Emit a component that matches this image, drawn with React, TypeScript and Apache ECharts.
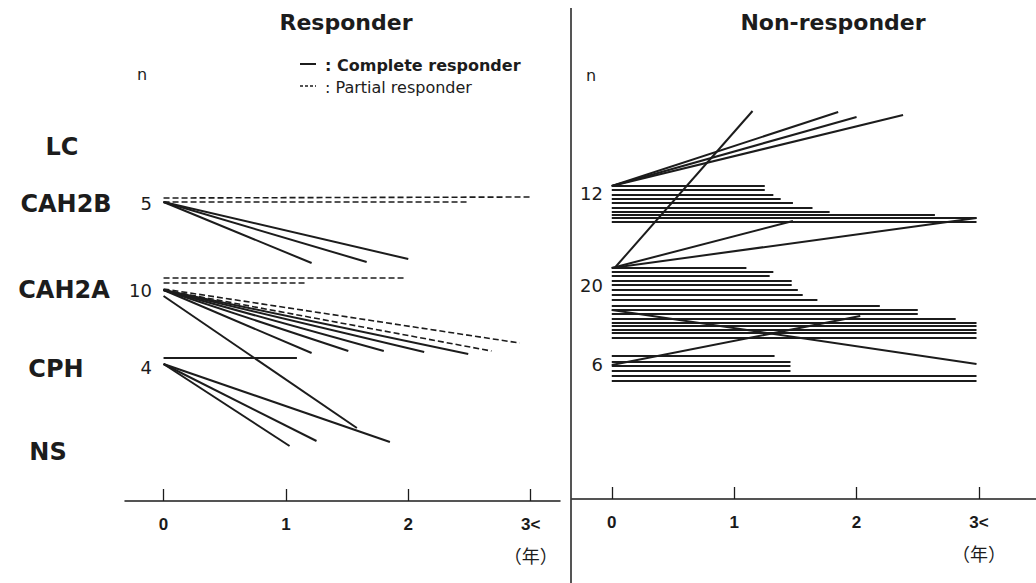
import React, { useEffect, useRef } from "react";
import * as echarts from "echarts";

// ---- data ----
const yearTicks = [0, 1, 2, 3];
const yearLabels = ["0", "1", "2", "3<"];
const stageNames = ["LC", "CAH2B", "CAH2A", "CPH", "NS"];
const stageLevels = [35.4, 29.7, 21.1, 13.2, 4.9];
const responderCounts = ["5", "10", "4"];
const responderCountLevels = [29.8, 21.1, 13.4];
const nonResponderCounts = ["12", "20", "6"];
const nonResponderCountLevels = [30.6, 21.4, 13.5];

// segments: [startYear, startLevel, endYear, endLevel]
const responderComplete = [
  // CAH2B
  [0, 29.9, 1.21, 23.8],
  [0, 29.9, 1.66, 23.9],
  [0, 29.9, 2.0, 24.2],
  // CAH2A
  [0, 21.1, 1.21, 14.8],
  [0, 21.1, 1.51, 15.0],
  [0, 21.1, 1.8, 15.0],
  [0, 21.1, 2.13, 14.9],
  [0, 21.1, 2.49, 14.7],
  [0, 20.5, 1.58, 7.3],
  // CPH
  [0, 14.3, 1.09, 14.3],
  [0, 13.7, 1.03, 5.5],
  [0, 13.7, 1.25, 6.0],
  [0, 13.7, 1.85, 5.9],
];
const responderPartial = [
  // CAH2B
  [0, 30.3, 3.0, 30.4],
  [0, 29.9, 2.48, 29.9],
  // CAH2A
  [0, 22.3, 1.98, 22.3],
  [0, 21.8, 1.16, 21.8],
  [0, 21.2, 2.91, 15.8],
  [0, 21.1, 2.68, 15.0],
];
const nonResponder = [
  // 12
  [0, 31.3, 1.85, 38.7],
  [0, 31.3, 2.0, 38.2],
  [0, 31.3, 2.38, 38.4],
  [0, 31.3, 1.25, 31.3],
  [0, 30.9, 1.25, 30.9],
  [0, 30.4, 1.32, 30.4],
  [0, 30.0, 1.38, 30.0],
  [0, 29.6, 1.48, 29.6],
  [0, 29.1, 1.64, 29.1],
  [0, 28.7, 1.78, 28.7],
  [0, 28.4, 2.64, 28.4],
  [0, 28.1, 2.98, 28.1],
  [0, 27.7, 2.98, 27.7],
  // 20
  [0.03, 23.2, 1.15, 38.8],
  [0, 23.1, 2.98, 28.1],
  [0, 23.1, 1.48, 27.8],
  [0, 18.9, 2.98, 13.5],
  [0, 23.1, 1.1, 23.1],
  [0, 22.7, 1.32, 22.7],
  [0, 22.3, 1.29, 22.3],
  [0, 21.8, 1.47, 21.8],
  [0, 21.4, 1.47, 21.4],
  [0, 20.9, 1.52, 20.9],
  [0, 20.4, 1.56, 20.4],
  [0, 19.9, 1.68, 19.9],
  [0, 19.3, 2.19, 19.3],
  [0, 18.9, 2.5, 18.9],
  [0, 18.5, 2.5, 18.5],
  [0, 18.0, 2.81, 18.0],
  [0, 17.6, 2.98, 17.6],
  [0, 17.3, 2.98, 17.3],
  [0, 16.9, 2.98, 16.9],
  [0, 16.6, 2.98, 16.6],
  [0, 16.1, 2.98, 16.1],
  // 6
  [0, 13.4, 2.03, 18.3],
  [0, 14.3, 1.33, 14.3],
  [0, 13.7, 1.46, 13.7],
  [0, 13.3, 1.46, 13.3],
  [0, 12.8, 1.46, 12.8],
  [0, 12.3, 2.98, 12.3],
  [0, 11.8, 2.98, 11.8],
];

// ---- layout / style ----
const INK = "#1c1c1c";
const SANS = "'DejaVu Sans', 'Liberation Sans', sans-serif";
const stageLabelX = [62, 66, 64, 56, 48];

const toSeg = (s: number[]) => ({ coords: [[s[0], s[1]], [s[2], s[3]]] });

function xAxisFor(grid: number, min: number, max: number) {
  return {
    gridIndex: grid,
    type: "value",
    min,
    max,
    axisLine: { onZero: false, lineStyle: { color: INK, width: 1.5 } },
    axisTick: { inside: true, length: 12, customValues: yearTicks, lineStyle: { color: INK, width: 1.3 } },
    axisLabel: {
      customValues: yearTicks,
      formatter: (v: number) => yearLabels[yearTicks.indexOf(v)] ?? "",
      margin: 15,
      fontSize: 17,
      fontWeight: "bold",
      color: "#1a1a1a",
      fontFamily: "'Liberation Sans', Arial, sans-serif",
    },
    splitLine: { show: false },
  };
}

export default function App() {
  const ref = useRef<HTMLDivElement>(null);
  useEffect(() => {
    document.body.style.margin = "0";
    const chart = echarts.init(ref.current!, null, { renderer: "svg" });
    const lineStyle = { color: INK, width: 2, opacity: 1 };
    chart.setOption({
      animation: false,
      backgroundColor: "#fff",
      grid: [
        { left: 125, width: 435, top: 101, height: 400 },
        { left: 572, width: 464, top: 99, height: 400 },
      ],
      xAxis: [xAxisFor(0, -0.315, 3.24), xAxisFor(1, -0.325, 3.466)],
      yAxis: [
        { gridIndex: 0, type: "value", min: 0, max: 40, show: false },
        { gridIndex: 1, type: "value", min: 0, max: 40, show: false },
      ],
      series: [
        {
          type: "lines",
          coordinateSystem: "cartesian2d",
          xAxisIndex: 0,
          yAxisIndex: 0,
          silent: true,
          lineStyle: { ...lineStyle, type: "solid" },
          data: responderComplete.map(toSeg),
        },
        {
          type: "lines",
          coordinateSystem: "cartesian2d",
          xAxisIndex: 0,
          yAxisIndex: 0,
          silent: true,
          lineStyle: { ...lineStyle, width: 1.6, type: [6, 3] },
          data: responderPartial.map(toSeg),
        },
        {
          type: "lines",
          coordinateSystem: "cartesian2d",
          xAxisIndex: 1,
          yAxisIndex: 1,
          silent: true,
          lineStyle: { ...lineStyle, type: "solid" },
          data: nonResponder.map(toSeg),
        },
      ],
    });

    const py = (g: number, v: number) => (chart.convertToPixel({ gridIndex: g } as any, [0, v]) as number[])[1];
    const px = (g: number, v: number) => (chart.convertToPixel({ gridIndex: g } as any, [v, 0]) as number[])[0];

    const graphic: any[] = [];
    const txt = (x: number, y: number, text: string, size: number, align = "center", weight: any = "normal", family = SANS) =>
      graphic.push({
        type: "text",
        x,
        y,
        style: { text, fontSize: size, fontWeight: weight, fontFamily: family, fill: INK, align, verticalAlign: "middle" },
      });

    txt(346, 22, "Responder", 22, "center", "bold");
    txt(833, 22, "Non-responder", 22, "center", "bold");

    // legend
    graphic.push({ type: "line", shape: { x1: 300, y1: 64, x2: 316, y2: 64 }, style: { stroke: INK, lineWidth: 2 } });
    graphic.push({ type: "line", shape: { x1: 300, y1: 86, x2: 316, y2: 86 }, style: { stroke: INK, lineWidth: 1.5, lineDash: [3, 2] } });
    txt(325, 65, ": Complete responder", 16, "left", "bold");
    txt(325, 87, ": Partial responder", 16, "left", "normal");

    txt(142, 74, "n", 16, "center", "normal");
    txt(591, 75, "n", 16, "center", "normal");

    stageNames.forEach((s, i) => txt(stageLabelX[i], py(0, stageLevels[i]), s, 24, "center", "bold"));
    responderCounts.forEach((s, i) => txt(152, py(0, responderCountLevels[i]), s, 18, "right"));
    nonResponderCounts.forEach((s, i) => txt(603, py(1, nonResponderCountLevels[i]), s, 18, "right"));

    const jp = "'Noto Sans CJK JP', sans-serif";
    txt(px(0, 3), 555, "（年）", 18, "center", "normal", jp);
    txt(px(1, 3), 553, "（年）", 18, "center", "normal", jp);

    graphic.push({ type: "line", shape: { x1: 571, y1: 8, x2: 571, y2: 583 }, style: { stroke: INK, lineWidth: 1.5 } });

    chart.setOption({ graphic });
    return () => chart.dispose();
  }, []);
  return <div ref={ref} style={{ width: 1036, height: 583 }} />;
}
